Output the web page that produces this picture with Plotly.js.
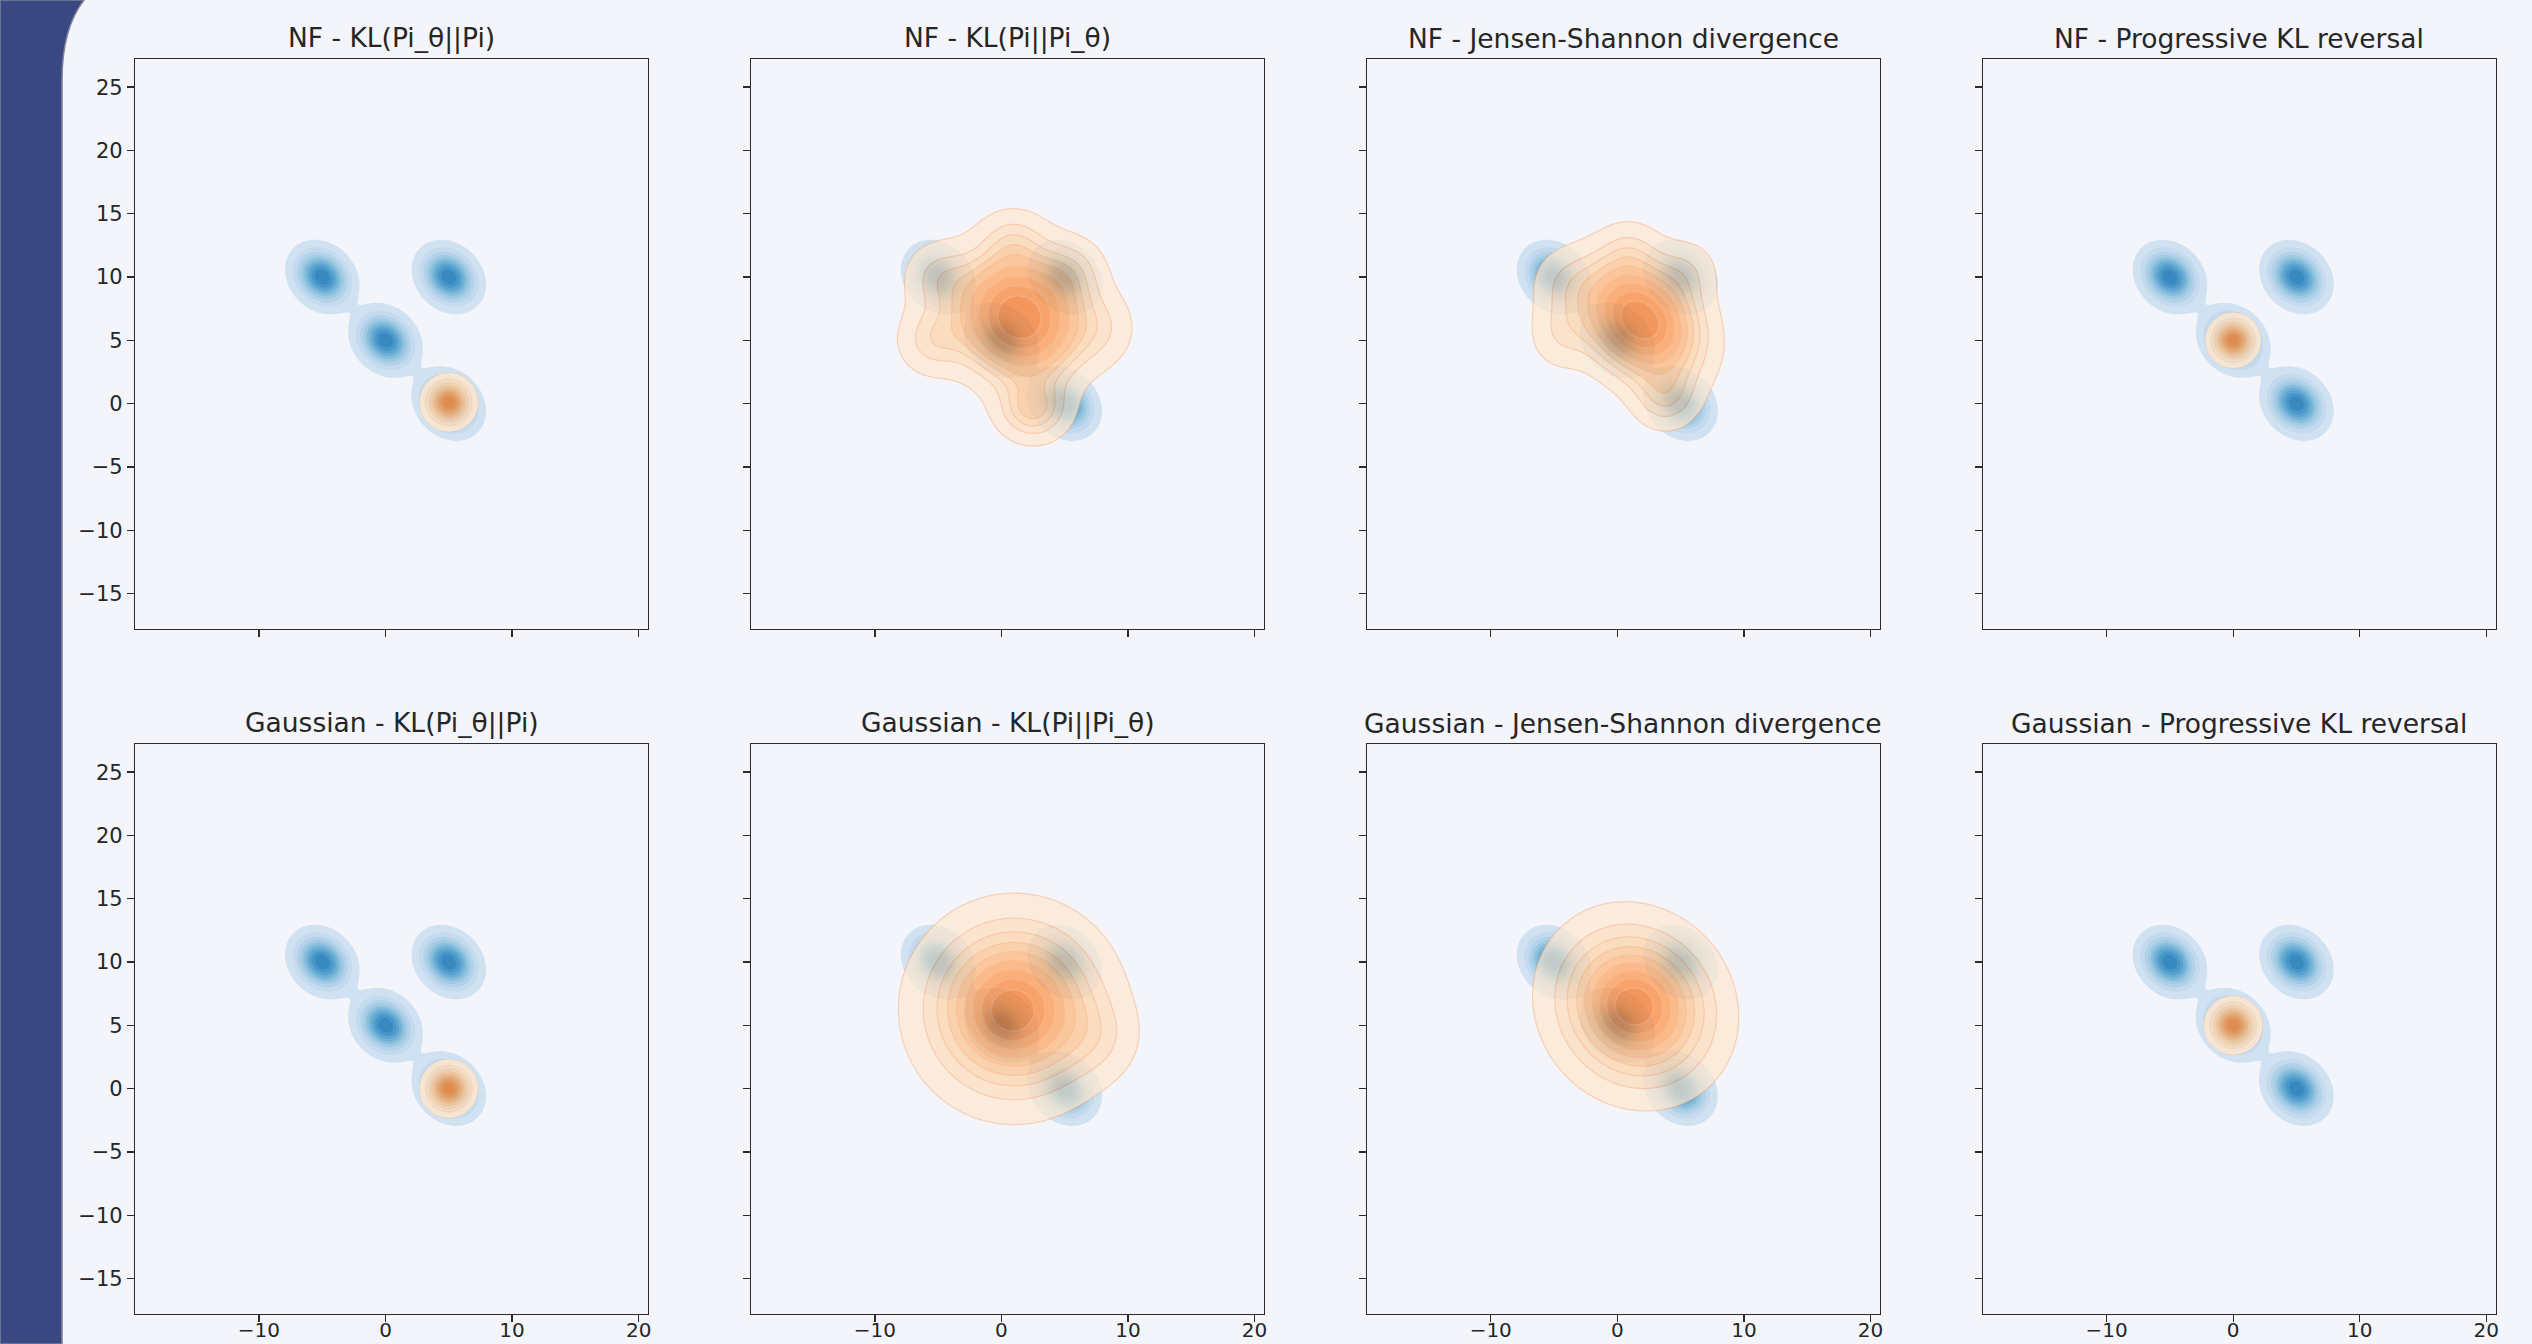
<!DOCTYPE html>
<html><head><meta charset="utf-8">
<script src="https://cdn.plot.ly/plotly-3.0.1.min.js"></script>
<style>html,body{margin:0;padding:0;background:#f3f5fa;}#chart{width:2532px;height:1344px;}</style>
</head><body><div id="chart"></div>
<script>
// ---------------- data ----------------
const panelTitles = ["NF - KL(Pi_θ||Pi)", "NF - KL(Pi||Pi_θ)", "NF - Jensen-Shannon divergence", "NF - Progressive KL reversal",
  "Gaussian - KL(Pi_θ||Pi)", "Gaussian - KL(Pi||Pi_θ)", "Gaussian - Jensen-Shannon divergence", "Gaussian - Progressive KL reversal"];
const xTickVals = [-10, 0, 10, 20];
const xTickText = ["\u221210", "0", "10", "20"];
const yTickVals = [-15, -10, -5, 0, 5, 10, 15, 20, 25];
const yTickText = ["\u221215", "\u221210", "\u22125", "0", "5", "10", "15", "20", "25"];
const xRange = [-19.77, 20.74];
const yRange = [-17.8, 27.2];

// target distribution Pi (blue): four Gaussian modes
const targetCx = [-5, 5, 0, 5];
const targetCy = [10, 10, 5, 0];
const targetSx = [1.22, 1.22, 1.22, 1.22];
const targetSy = [1.22, 1.22, 1.22, 1.22];
const targetRho = [-0.2, -0.2, -0.2, -0.2];
const targetW = [1, 1, 1, 1];

// fitted distribution Pi_theta (orange), one list of bumps per panel
const modelCx = [[5.0],
  [1.4, 2.5, -5.5, 1.0, 8.0, -5.0, 5.5],
  [1.8, 3.8, -4.0, -4.5, 5.5, 1.0],
  [0.0],
  [5.0],
  [1.0, 0.8, 7.5],
  [1.45, 1.2],
  [0.0]];
const modelCy = [[0.1],
  [6.8, -0.5, 5.0, 13.0, 6.0, 10.0, 10.5],
  [6.6, 0.5, 9.5, 5.5, 10.5, 12.0],
  [5.0],
  [0.0],
  [6.3, 6.1, 4.0],
  [6.5, 6.5],
  [5.0]];
const modelSx = [[0.95],
  [3.0, 1.8, 1.8, 1.8, 1.8, 1.8, 1.8],
  [2.8, 1.6, 1.8, 1.6, 1.6, 1.6],
  [0.9],
  [0.95],
  [3.8, 1.5, 2.0],
  [3.35, 1.4],
  [0.95]];
const modelSy = [[0.95],
  [3.0, 1.6, 1.8, 1.6, 2.0, 1.8, 1.8],
  [2.8, 1.6, 1.8, 1.8, 1.6, 1.6],
  [0.9],
  [0.95],
  [3.8, 1.4, 2.0],
  [3.4, 1.3],
  [0.95]];
const modelRho = [[0],
  [-0.1, 0, 0, 0, 0, 0, 0],
  [-0.25, 0, 0, 0, 0, 0],
  [0],
  [0],
  [0, 0, 0],
  [-0.1, 0],
  [0]];
const modelW = [[1],
  [1.0, 0.10, 0.07, 0.05, 0.05, 0.06, 0.06],
  [1.0, 0.07, 0.05, 0.05, 0.04, 0.04],
  [1],
  [1],
  [1.0, 0.05, 0.03],
  [1.0, 0.04],
  [1]];
const modelOpacity = [0.85, 0.7, 0.7, 0.85, 0.85, 0.7, 0.7, 0.85];

// ---------------- helpers ----------------
const W = 2532, H = 1344;
const colLeft = [135.3, 751.2, 1367.1, 1983.0];
const rowTop = [59.3, 744.3];
const boxW = 512.7, boxH = 569.7;

const BLUES = ['#f7fbff','#deebf7','#c6dbef','#9ecae1','#6baed6','#4292c6','#2171b5','#08519c','#08306b'];
const ORANGES = ['#fff5eb','#fee6ce','#fdd0a2','#fdae6b','#fd8d3c','#f16913','#d94801','#a63603','#7f2704'];
function hex2rgb(h){return [parseInt(h.slice(1,3),16),parseInt(h.slice(3,5),16),parseInt(h.slice(5,7),16)];}
function cmap(list, t){
  const n = list.length - 1; const p = Math.max(0, Math.min(1, t)) * n;
  const i = Math.min(n - 1, Math.floor(p)); const f = p - i;
  const a = hex2rgb(list[i]), b = hex2rgb(list[i + 1]);
  return 'rgb(' + a.map((v, k) => Math.round(v + (b[k] - v) * f)).join(',') + ')';
}
const NLEV = 9, THRESH = 0.05, LSTEP = (1 - THRESH) / 9;
function bandScale(list, t0, t1){
  const cs = [[0, 'rgba(255,255,255,0)']];
  for (let k = 0; k < NLEV; k++) cs.push([(k + 1) / NLEV, cmap(list, t0 + (t1 - t0) * k / (NLEV - 1))]);
  return cs;
}

const gx = [], gy = [];
for (let v = -13; v <= 15.0001; v += 0.13) gx.push(+v.toFixed(3));
for (let v = -8; v <= 20.0001; v += 0.13) gy.push(+v.toFixed(3));

function mixture(cx, cy, sx, sy, rho, w){
  const z = [];
  for (let j = 0; j < gy.length; j++){
    const row = new Float64Array(gx.length);
    for (let i = 0; i < gx.length; i++){
      let s = 0;
      for (let k = 0; k < cx.length; k++){
        const dx = (gx[i] - cx[k]) / sx[k], dy = (gy[j] - cy[k]) / sy[k], r = rho[k];
        const q = (dx * dx - 2 * r * dx * dy + dy * dy) / (1 - r * r);
        s += w[k] * Math.exp(-0.5 * q) / (2 * Math.PI * sx[k] * sy[k] * Math.sqrt(1 - r * r));
      }
      row[i] = s;
    }
    z.push(row);
  }
  // iso-proportion transform: share of mass lying at lower density
  const nx = gx.length, n = nx * gy.length;
  const flat = new Float64Array(n);
  for (let j = 0; j < gy.length; j++) flat.set(z[j], j * nx);
  const idx = new Uint32Array(n); for (let i = 0; i < n; i++) idx[i] = i;
  idx.sort((a, b) => flat[a] - flat[b]);
  let tot = 0; for (let i = 0; i < n; i++) tot += flat[i];
  const out = new Float64Array(n); let cum = 0;
  for (let i = 0; i < n; i++){ cum += flat[idx[i]]; out[idx[i]] = cum / tot; }
  const res = [];
  for (let j = 0; j < gy.length; j++) res.push(Array.from(out.subarray(j * nx, (j + 1) * nx)));
  return res;
}

const blueZ = mixture(targetCx, targetCy, targetSx, targetSy, targetRho, targetW);
const contourSpec = {start: THRESH, end: THRESH + (NLEV - 1) * LSTEP + 1e-4, size: LSTEP, coloring: 'fill'};

const traces = [], layout = {
  width: W, height: H, margin: {l: 0, r: 0, t: 0, b: 0},
  paper_bgcolor: '#f3f5fa', plot_bgcolor: 'rgba(0,0,0,0)',
  showlegend: false, font: {family: 'DejaVu Sans', color: '#262626'},
  annotations: [], shapes: []
};

for (let p = 0; p < 8; p++){
  const r = Math.floor(p / 4), c = p % 4, n = p + 1;
  const xa = 'x' + (n > 1 ? n : ''), ya = 'y' + (n > 1 ? n : '');
  const x0 = colLeft[c] / W, x1 = (colLeft[c] + boxW) / W;
  const y1 = 1 - rowTop[r] / H, y0 = 1 - (rowTop[r] + boxH) / H;
  const axCommon = {showline: true, linecolor: '#2b2b2b', linewidth: 1.4, mirror: true,
    ticks: 'outside', ticklen: 7, tickwidth: 1.4, tickcolor: '#2b2b2b',
    showgrid: false, zeroline: false, fixedrange: true,
    tickfont: {family: 'DejaVu Sans', size: 21, color: '#262626'}};
  layout['xaxis' + (n > 1 ? n : '')] = Object.assign({}, axCommon, {
    domain: [x0, x1], range: xRange, anchor: ya, tickmode: 'array',
    tickvals: xTickVals, ticktext: xTickText, showticklabels: r === 1,
    tickfont: {family: 'DejaVu Sans', size: 20, color: '#262626'},
    ticklabelstandoff: -9});
  layout['yaxis' + (n > 1 ? n : '')] = Object.assign({}, axCommon, {
    domain: [y0, y1], range: yRange, anchor: xa, tickmode: 'array',
    tickvals: yTickVals, ticktext: yTickText, showticklabels: c === 0});
  layout.annotations.push({xref: 'paper', yref: 'paper', x: (x0 + x1) / 2, y: 1 - (rowTop[r] - 21) / H,
    text: panelTitles[p], showarrow: false, xanchor: 'center', yanchor: 'middle',
    font: {family: 'DejaVu Sans', size: 26.5, color: '#262626'}});

  traces.push({type: 'contour', x: gx, y: gy, z: blueZ, xaxis: xa, yaxis: ya,
    autocontour: false, contours: Object.assign({showlines: false}, contourSpec),
    colorscale: bandScale(BLUES, 0.2, 0.66), showscale: false, line: {width: 0, smoothing: 1},
    hoverinfo: 'skip'});
  const oz = mixture(modelCx[p], modelCy[p], modelSx[p], modelSy[p], modelRho[p], modelW[p]);
  const compact = modelCx[p].length === 1;
  traces.push({type: 'contour', x: gx, y: gy, z: oz, xaxis: xa, yaxis: ya,
    autocontour: false, contours: Object.assign({showlines: true}, contourSpec),
    colorscale: bandScale(ORANGES, 0.12, compact ? 0.5 : 0.6), showscale: false,
    line: {width: compact ? 0.6 : 1.2, color: compact ? 'rgba(245,140,70,0.3)' : 'rgba(250,160,100,0.6)', smoothing: 1},
    opacity: modelOpacity[p], hoverinfo: 'skip'});
}

// slide background band on the left
const px = v => v / W, py = v => 1 - v / H;
layout.shapes.push({type: 'path', xref: 'paper', yref: 'paper', layer: 'below',
  path: `M 0 ${py(0)} L ${px(84)} ${py(0)} C ${px(70)} ${py(18)} ${px(62)} ${py(45)} ${px(62)} ${py(80)} L ${px(62)} ${py(1344)} L 0 ${py(1344)} Z`,
  fillcolor: '#394882', line: {color: '#7c8196', width: 1.5}});

Plotly.newPlot('chart', traces, layout, {staticPlot: true});
</script></body></html>
